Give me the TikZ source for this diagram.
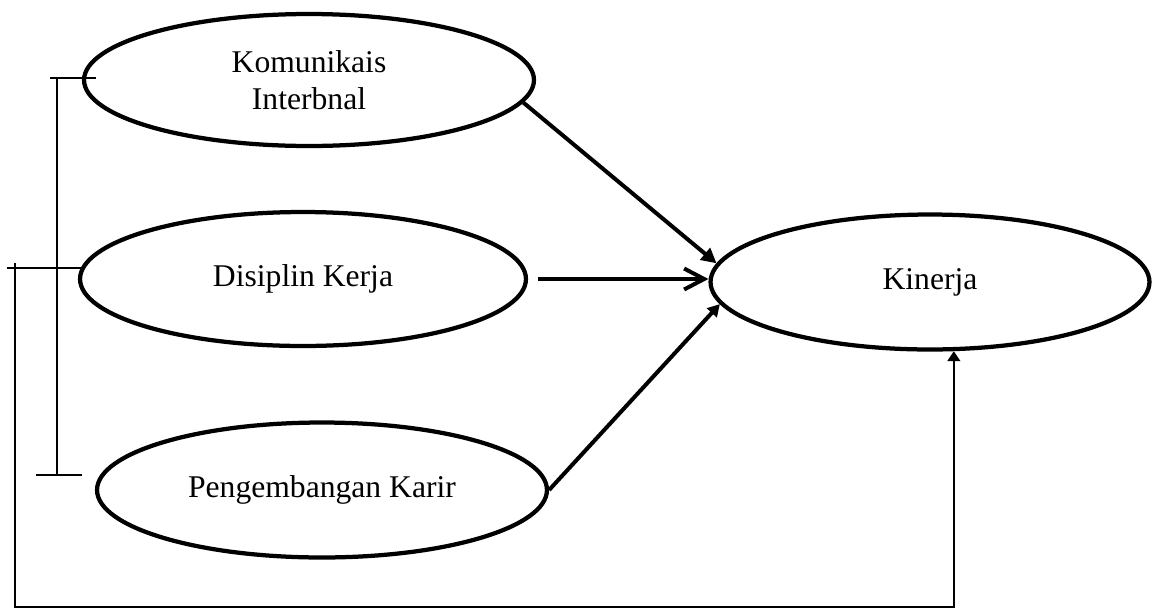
\documentclass[tikz,border=0pt]{standalone}
\usepackage{fontspec}
\setmainfont{Liberation Serif}
\usetikzlibrary{shapes.geometric,arrows.meta}

\begin{document}
\begin{tikzpicture}[
    x=0.02cm,y=-0.02cm,
    var/.style={draw,black,ellipse,line width=0.085cm,minimum width=9cm,minimum height=2.68cm,inner sep=0pt,align=center,font=\fontsize{18}{21}\selectfont},
    link/.style={black,line width=0.035cm},
    effect/.style={black,line width=0.08cm}
    ]
    \useasboundingbox (0,0) rectangle (1156,609);
    \node[var,minimum height=2.64cm] (kom) at (309,80) {Komunikais\\Interbnal};
    \node[var,minimum width=8.92cm] (dis) at (303,279) {Disiplin Kerja};
    \node[var,minimum height=2.7cm] (pen) at (322,490) {Pengembangan Karir};
    \node[var,minimum width=8.78cm,minimum height=2.7cm] (kin) at (930,282) {Kinerja};
    \draw[effect,-{Triangle[length=0.3cm,width=0.3cm]}] (kom.-6.5) -- (kin.175);
    \draw[effect,-{Straight Barb[length=0.4cm,width=0.42cm]}] ([xshift=0.2cm]dis.east) -- (dis.east -| kin.west);
    \draw[effect,-{Triangle[length=0.24cm,width=0.26cm]}] (pen.east) -- (kin.186.5);
    % bracket
    \coordinate (b1) at (57,78);
    \coordinate (b3) at (57,475);
    \draw[link] (b1) -- (b3);
    \draw[link] ([xshift=-0.14cm]b1) -- ([xshift=0.78cm]b1);
    \draw[link] ([xshift=-0.42cm]b3) -- ([xshift=0.5cm]b3);
    % line back to Kinerja
    \coordinate (f1) at (15,263);
    \coordinate (f2) at (15,607);
    \draw[link] (7,268) -- (81,268);
    \draw[link,-{Triangle[length=0.2cm,width=0.26cm]}] (f1) -- (f2) -| (kin.-71);
\end{tikzpicture}
\end{document}
